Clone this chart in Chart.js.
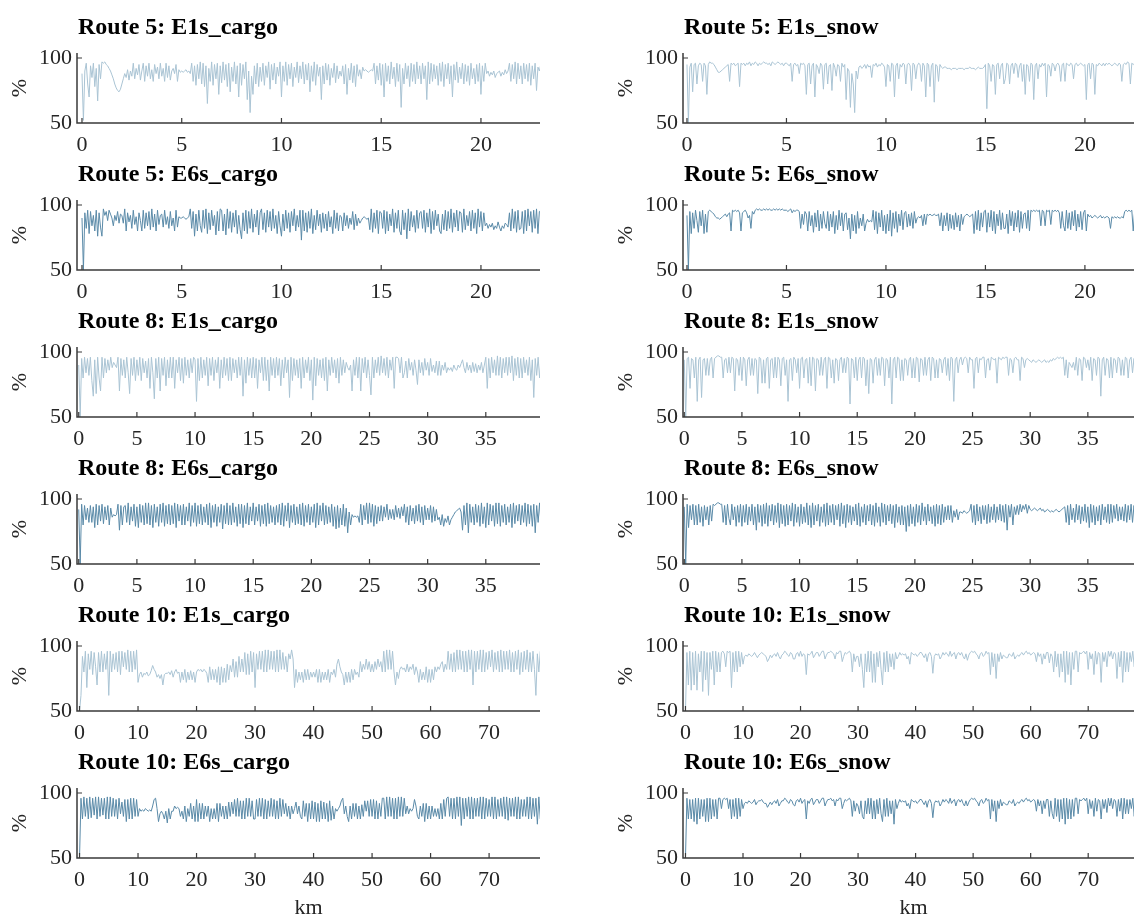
<!DOCTYPE html>
<html><head><meta charset="utf-8">
<script src="https://cdn.jsdelivr.net/npm/chart.js@4.4.1/dist/chart.umd.min.js"></script>
<style>
html,body{margin:0;padding:0;background:#fff;overflow:hidden;width:1134px;height:918px;}
#wrap{position:relative;width:1160px;height:918px;}
canvas{position:absolute;}
</style></head><body><div id="wrap"></div>
<script>
// ---- sampling density (samples per km) ----
const route5SamplesPerKm = 14;
const route8SamplesPerKm = 8;
const route10SamplesPerKm = 4;

// ---- tick labels ----
const route5Ticks = [0, 5, 10, 15, 20];
const route8Ticks = [0, 5, 10, 15, 20, 25, 30, 35];
const route10Ticks = [0, 10, 20, 30, 40, 50, 60, 70];
const yTicks = [50, 100];

// ---- series values (%), one row per km ----
const route5_E1s_cargo = [
 88,52,90,96,80,70,94,85,96,78,92,67,95,84,
 97,96,97,95,94,92,90,87,84,80,77,75,74,76,
 80,84,88,85,91,83,90,86,96,84,92,87,95,83,
 90,96,82,94,86,96,84,91,82,95,88,93,84,96,
 86,92,82,96,85,94,83,90,92,88,95,82,91,89,
 90,89,90,91,89,90,88,96,82,94,79,95,84,97,
 80,96,78,94,65,92,82,97,79,95,84,96,72,94,
 81,97,83,95,78,96,74,93,82,97,80,94,70,96,
 79,95,84,97,68,90,58,86,72,94,80,96,78,93,
 82,96,79,94,85,97,76,95,83,96,80,93,86,97,
 70,94,82,97,79,95,84,96,78,93,85,97,81,94,
 84,97,80,95,83,96,74,94,82,97,79,95,86,93,
 68,94,80,96,83,95,79,92,85,96,81,94,84,90,
 86,94,80,95,72,92,83,96,81,94,78,95,86,91,
 84,93,90,91,90,89,90,91,90,96,80,94,83,96,
 79,95,70,96,82,94,80,97,84,93,78,96,82,95,
 62,92,80,96,84,94,78,96,82,95,80,97,84,94,
 80,96,84,94,68,97,80,96,82,95,84,94,79,96,
 82,97,78,95,84,96,80,94,70,95,83,97,81,93,
 84,96,80,95,82,94,79,96,84,92,80,95,82,96,
 72,94,82,96,88,90,86,89,87,90,85,88,89,90,
 86,89,87,91,88,90,96,82,95,84,97,80,96,84,
 94,80,96,84,95,82,96,79,94,84,96,75,93,90,
 95,88];
const route5_E1s_snow = [
 95,50,93,96,74,95,96,80,94,96,95,82,96,94,
 72,95,97,96,96,95,93,91,89,89,90,91,92,93,
 94,95,82,96,95,96,94,95,96,78,96,95,96,94,
 96,95,97,94,96,95,97,96,94,96,95,96,97,96,
 96,95,96,94,97,96,95,96,97,96,95,96,94,96,
 96,95,94,96,82,95,96,94,95,88,96,95,96,94,
 72,95,96,80,94,96,70,95,93,88,96,94,76,95,
 96,80,94,95,75,96,93,86,95,94,82,96,93,95,
 68,92,90,62,88,80,58,90,84,93,94,92,93,95,
 92,95,93,94,85,95,94,96,93,95,94,96,95,93,
 78,95,94,82,96,95,70,94,96,84,95,93,96,95,
 80,95,96,94,75,96,95,84,94,96,95,82,96,94,
 70,96,95,78,94,96,66,95,94,82,95,93,92,93,
 93,92,92,92,91,92,92,92,91,92,92,92,92,91,
 92,92,92,93,92,92,92,91,92,93,92,92,92,93,
 95,61,96,94,82,95,94,72,95,96,84,94,96,80,
 84,96,95,80,94,96,88,96,95,85,94,96,82,95,
 72,95,94,82,96,95,68,94,96,84,95,93,96,94,
 96,70,95,94,86,96,95,90,95,96,94,82,95,96,
 82,96,95,94,96,95,84,95,96,94,95,96,95,94,
 95,68,95,96,84,96,95,72,95,94,96,95,94,96,
 94,96,95,96,95,94,95,96,95,94,96,95,82,95,
 96,95,97,96,80,96,95,96,95,96,94,95,80,95,
 96,94];
const route5_E6s_cargo = [
 90,50,94,82,96,78,95,84,92,80,96,76,94,83,
 76,97,92,95,88,96,93,90,84,92,88,95,86,93,
 92,86,97,80,94,87,92,82,96,85,91,80,94,88,
 80,96,82,94,84,95,81,97,83,93,80,96,85,92,
 93,83,96,85,91,82,95,84,90,80,96,83,91,90,
 90,91,90,89,90,91,97,82,95,76,93,80,96,84,
 79,96,82,97,78,94,81,96,84,92,77,95,80,97,
 96,80,93,77,97,82,95,79,94,83,96,78,92,81,
 74,94,80,96,78,95,82,97,79,93,83,96,77,94,
 97,81,94,79,96,83,95,80,97,82,92,78,95,84,
 76,93,80,96,82,94,79,95,84,97,80,92,83,96,
 73,96,80,94,79,95,82,97,78,92,81,96,84,93,
 79,94,82,93,80,95,83,91,78,96,82,94,80,92,
 91,80,94,84,92,82,90,85,95,81,93,84,90,86,
 88,90,91,90,89,90,81,97,79,94,82,96,78,95,
 94,82,96,78,95,80,93,84,97,79,94,82,96,80,
 77,96,81,94,74,97,80,95,83,92,79,96,82,94,
 95,82,96,79,94,83,97,78,95,81,96,84,93,80,
 78,93,81,96,80,95,82,97,79,94,83,96,80,95,
 94,79,97,81,92,84,95,80,96,82,94,78,97,83,
 95,80,94,84,86,82,85,83,86,81,84,82,87,83,
 80,84,82,86,85,83,94,80,97,82,95,79,96,81,
 82,95,78,96,80,97,84,95,79,96,82,97,78,95,
 96,84];
const route5_E6s_snow = [
 92,50,95,78,94,82,96,88,79,95,84,96,78,93,
 79,95,96,95,94,93,91,90,90,89,90,91,92,93,
 91,93,94,80,96,95,96,95,96,94,80,94,95,96,
 94,90,92,82,95,93,96,97,96,97,96,96,97,96,
 97,96,97,96,96,97,96,97,96,97,96,97,96,96,
 96,95,96,97,94,96,95,96,96,95,82,93,85,95,
 93,80,95,84,92,79,94,83,96,80,93,82,95,86,
 82,95,80,93,83,95,78,92,81,96,84,94,80,93,
 94,81,90,74,93,80,92,78,95,82,90,84,93,80,
 86,89,87,88,87,96,81,95,78,94,83,96,80,92,
 78,93,80,96,76,94,82,95,79,93,84,96,81,94,
 95,83,93,84,94,82,95,86,90,91,90,92,84,93,
 85,93,92,93,92,92,93,92,92,93,84,94,80,92,
 84,94,80,93,82,92,81,94,83,92,80,93,85,91,
 92,93,92,91,92,93,78,95,81,96,80,94,83,95,
 96,79,94,83,96,80,95,78,93,84,96,81,94,82,
 82,93,78,96,84,95,80,94,83,96,79,95,82,93,
 94,82,96,80,96,95,96,95,96,95,96,84,96,95,
 84,96,95,96,85,96,95,96,95,96,94,82,95,84,
 80,96,82,94,81,95,84,96,80,93,83,95,81,94,
 96,80,93,91,92,90,91,92,91,90,91,92,90,91,
 90,91,91,90,82,91,90,91,90,91,90,90,91,90,
 95,96,95,96,95,96,80,95,82,94,96,95,80,94,
 94,80];

const route8_E1s_cargo = [
 90,50,95,80,96,84,95,82, 96,78,66,94,68,96,80,70, 96,80,95,84,94,86,96,88, 92,90,88,96,70,95,82,94,
 80,96,84,68,95,82,96,78, 94,82,96,78,95,84,93,80, 95,72,96,84,64,95,80,96, 70,95,82,96,74,94,80,96,
 80,96,72,94,84,96,78,95, 76,96,82,94,80,95,84,96, 94,62,95,78,96,80,94,82, 96,74,95,82,96,78,94,84,
 96,72,94,80,96,82,95,78, 96,78,95,84,94,80,96,82, 96,66,94,76,96,82,95,80, 96,80,95,72,94,84,96,78,
 96,78,94,70,96,82,95,80, 96,82,95,74,94,80,96,84, 94,65,96,78,95,82,94,80, 95,72,96,80,94,84,96,78,
 94,63,96,74,95,82,94,80, 95,78,96,70,94,82,96,84, 94,80,95,76,96,82,94,84, 92,88,86,90,70,94,82,96,
 80,96,70,95,84,96,80,94, 82,67,96,80,94,84,96,82, 97,84,95,82,96,80,94,86, 96,72,96,96,95,84,96,80,
 84,93,80,95,86,92,82,94, 86,75,94,84,92,82,95,86, 92,82,95,85,90,84,93,82, 93,82,90,86,92,84,88,86,
 88,85,90,87,86,90,88,91, 94,88,84,92,86,90,84,92, 85,91,84,90,86,92,84,90, 96,72,95,80,96,84,94,82,
 97,82,96,80,95,84,96,82, 96,84,97,78,95,82,96,80, 95,80,96,84,94,82,96,78, 94,65,95,82,96,80,95,84];
const route8_E1s_snow = [
 94,50,95,96,72,95,94,80, 96,62,94,96,65,94,95,82, 95,82,94,96,80,95,96,97, 97,96,96,80,94,95,84,96,
 84,96,95,70,95,94,82,96, 78,96,94,74,94,96,82,95, 82,95,94,68,96,95,76,94, 76,95,96,72,94,95,80,96,
 80,96,94,74,95,96,82,94, 62,94,95,78,96,94,84,95, 72,95,96,80,94,95,76,96, 74,96,95,70,95,94,82,96,
 82,94,96,72,96,95,80,94, 76,95,94,78,94,96,84,95, 84,96,95,60,95,94,80,96, 78,94,96,80,96,95,74,94,
 68,95,94,76,94,96,82,95, 82,96,95,74,95,94,80,96, 60,94,96,80,96,95,78,94, 78,95,94,82,94,96,80,95,
 80,96,95,77,95,94,82,96, 82,94,96,78,96,95,80,94, 80,95,94,84,94,96,82,95, 78,96,95,62,94,96,84,94,
 96,90,95,96,95,84,96,94, 94,72,95,96,84,95,94,96, 96,80,94,95,86,96,95,94, 95,76,96,95,94,96,95,96,
 96,82,95,94,84,95,96,94, 94,78,96,95,88,94,95,94, 93,92,94,93,92,93,94,93, 92,93,94,92,93,92,94,93,
 95,94,95,96,95,96,95,96, 82,94,80,92,90,88,92,86, 96,82,95,94,78,96,95,88, 94,86,96,78,95,94,82,96,
 95,66,94,96,82,95,94,80, 96,80,95,94,84,96,95,82, 94,82,96,95,80,94,96,84, 95,84,96,94,82,95,96,80];
const route8_E6s_cargo = [
 92,50,96,80,95,84,93,82, 95,82,94,78,96,80,95,83, 96,81,94,84,95,80,93,86, 88,87,88,96,76,95,80,94,
 95,82,97,80,94,83,96,79, 94,78,96,82,95,80,97,81, 97,80,95,78,96,82,94,79, 96,82,97,79,95,81,96,80,
 95,81,97,78,96,83,95,80, 96,80,94,83,97,79,95,82, 97,79,95,81,96,80,94,82, 96,80,97,78,95,82,96,79,
 94,82,96,77,95,81,97,80, 95,80,97,82,94,79,96,81, 96,78,95,81,97,80,94,83, 97,80,94,83,96,79,95,81,
 96,79,97,81,95,82,94,80, 95,82,96,80,97,79,95,83, 97,78,95,82,96,80,94,81, 96,80,97,79,95,82,96,80,
 94,82,96,78,97,80,95,83, 97,80,95,81,94,82,96,79, 94,77,95,78,93,80,96,79, 93,74,90,80,88,86,87,86,
 87,82,96,80,95,84,97,81, 97,82,96,79,95,81,94,83, 95,83,94,86,96,84,92,85, 92,84,95,86,93,85,94,87,
 96,82,94,80,95,83,93,81, 95,83,96,82,94,80,95,84, 93,84,95,82,94,83,92,84, 86,80,88,79,85,82,87,80,
 84,86,88,90,91,92,93,90, 76,95,80,97,74,96,82,94, 80,96,82,95,79,97,81,94, 78,97,80,96,83,95,79,97,
 81,97,79,95,82,96,80,94, 82,96,78,97,81,95,83,96, 80,95,82,97,79,96,81,95, 79,96,74,95,82,97,80,94];
const route8_E6s_snow = [
 94,50,96,78,95,84,96,80, 95,80,96,82,94,79,95,84, 94,80,95,83,96,95,96,97, 97,96,96,82,95,80,96,85,
 80,96,84,94,79,95,82,96, 79,95,82,96,80,94,83,96, 80,94,76,96,82,95,79,96, 81,97,79,95,83,96,80,95,
 82,97,78,96,81,95,79,96, 80,95,83,97,79,96,82,94, 79,96,81,94,82,97,80,95, 78,97,80,95,83,96,79,94,
 82,96,79,97,80,95,82,96, 80,95,84,96,79,97,81,95, 78,96,82,95,80,94,83,96, 80,97,79,94,82,96,80,95,
 83,96,80,95,79,97,82,94, 79,97,82,96,80,95,83,96, 81,95,78,96,82,94,80,95, 80,94,75,95,79,96,81,94,
 79,96,82,95,80,97,83,94, 80,96,83,94,81,95,79,96, 81,95,80,96,82,94,84,95, 84,95,82,91,86,92,84,90,
 90,89,91,90,89,90,91,96, 82,95,80,96,83,94,81,95, 84,95,81,96,82,94,84,96, 82,94,84,96,83,95,82,96,
 76,95,86,96,80,94,88,95, 88,96,90,95,92,96,89,95, 92,91,92,93,92,91,92,93, 91,92,90,91,92,91,90,91,
 90,91,92,91,90,91,92,93, 94,82,95,80,96,84,93,82, 96,84,95,81,94,83,96,82, 94,78,96,82,95,80,94,83,
 95,80,96,84,94,82,96,81, 96,82,95,85,96,83,94,84, 94,83,96,82,95,84,96,82, 95,84,96,83,94,82,96,84];

const route10_E1s_cargo = [
 50,62,92,80, 96,68,94,82, 96,78,95,84, 70,95,80,96, 80,94,82,96, 62,96,80,94, 82,95,80,96, 78,96,84,95,
 82,97,80,96, 80,96,82,97, 72,78,80,76, 79,78,80,77, 78,81,85,82, 80,76,78,75, 78,70,78,79, 79,80,78,81,
 76,80,82,79, 80,72,80,74, 82,72,80,74, 81,74,80,72, 80,82,81,82, 80,82,81,79, 72,84,74,82, 74,82,72,84,
 70,84,72,83, 72,86,74,85, 80,90,76,88, 76,92,80,90, 80,95,78,94, 78,96,80,95, 68,94,82,96, 82,96,80,97,
 80,97,82,96, 82,96,80,97, 80,97,82,95, 82,92,80,94, 90,97,90,68, 82,72,80,74, 80,72,82,74, 82,74,80,76,
 80,76,82,72, 82,72,80,74, 80,74,82,72, 80,78,82,76, 86,90,84,80, 78,70,80,72, 80,72,82,74, 82,78,80,76,
 88,80,86,82, 90,82,88,80, 86,80,88,82, 90,84,88,80, 96,80,97,82, 97,82,96,80, 70,80,75,82, 84,82,83,80,
 86,80,84,82, 86,78,84,80, 72,82,74,80, 74,84,72,82, 72,82,74,84, 80,84,82,86, 88,80,86,82, 96,82,94,80,
 95,80,97,82, 97,82,96,80, 96,80,97,82, 97,70,96,80, 96,82,97,80, 97,80,95,82, 96,84,97,80, 95,82,96,80,
 97,80,96,82, 96,82,97,80, 95,80,96,82, 97,78,95,80, 96,82,97,80, 95,80,96,82, 62,94,80,96, 70,95];
const route10_E1s_snow = [
 50,95,70,96, 66,95,70,96, 66,94,80,96, 65,96,74,95, 62,95,82,96, 70,96,80,95, 80,95,96,94, 84,96,95,96,
 68,95,80,96, 80,96,84,95, 86,92,93,92, 94,93,92,93, 95,93,91,93, 94,95,94,93, 92,88,90,93, 91,93,94,92,
 95,92,90,93, 94,96,95,93, 92,95,94,90, 90,94,95,92, 96,92,94,93, 78,94,93,94, 96,91,93,95, 95,92,94,96,
 96,90,93,95, 95,96,95,94, 90,95,94,96, 96,88,92,95, 94,95,96,94, 80,94,88,92, 92,84,94,82, 68,94,80,96,
 80,96,72,94, 72,95,84,96, 82,70,95,80, 96,80,94,84, 94,82,95,90, 92,95,93,94, 93,94,90,92, 86,95,94,93,
 94,92,93,95, 95,93,91,94, 88,94,95,92, 79,92,94,93, 94,90,92,95, 93,95,94,92, 96,92,94,95, 90,94,95,93,
 95,92,90,94, 89,93,95,96, 95,96,94,93, 90,94,95,92, 93,96,94,95, 78,95,84,94, 75,94,88,95, 90,93,92,91,
 91,94,93,92, 95,90,92,93, 92,94,95,93, 95,96,94,95, 93,94,95,94, 88,95,92,94, 86,94,90,95, 95,87,94,92,
 80,96,84,94, 76,94,80,96, 72,96,78,95, 70,95,82,96, 96,80,95,94, 95,96,94,96, 82,95,90,94, 78,96,86,95,
 94,72,95,88, 95,84,96,92, 96,90,95,94, 75,95,84,96, 72,96,80,95, 80,95,88,96, 84,96,80,95, 78,95,82,96];
const route10_E6s_cargo = [
 50,96,80,97, 82,96,80,97, 81,96,83,97, 80,97,82,96, 83,96,80,97, 80,97,82,96, 82,95,80,96, 84,93,82,95,
 78,95,80,96, 80,96,82,95, 82,88,86,87, 86,88,87,86, 87,86,90,95, 96,88,78,84, 86,84,80,86, 77,88,80,86,
 86,90,88,89, 88,82,86,80, 90,78,88,82, 92,80,90,78, 95,78,92,80, 92,80,90,82, 90,78,88,80, 88,80,92,78,
 92,82,90,80, 90,80,93,82, 93,84,95,82, 96,82,94,80, 94,80,96,82, 96,82,94,80, 80,95,82,96, 82,96,80,95,
 80,94,82,96, 82,95,80,94, 80,96,82,95, 84,92,82,90, 80,90,84,88, 93,84,90,82, 80,94,82,92, 78,92,80,94,
 80,93,78,92, 78,94,80,93, 80,92,78,94, 79,90,80,88, 86,88,90,94, 96,84,90,82, 78,90,80,92, 82,92,80,90,
 80,91,82,94, 86,94,82,95, 82,95,80,94, 80,92,82,96, 96,80,97,82, 97,82,96,80, 96,80,97,82, 97,82,96,84,
 90,84,88,86, 88,95,90,82, 80,90,82,92, 78,92,80,90, 80,90,82,88, 82,88,80,92, 80,95,82,96, 97,82,96,80,
 96,80,97,82, 97,75,96,80, 96,82,97,80, 97,80,96,82, 96,82,97,80, 97,80,96,82, 95,82,97,80, 97,80,95,82,
 96,82,97,80, 97,79,96,82, 96,82,97,80, 97,80,95,82, 95,82,97,80, 97,80,96,82, 96,76,97,80, 75,94];
const route10_E6s_snow = [
 50,96,80,95, 80,95,78,96, 76,96,80,95, 82,95,78,96, 78,96,80,95, 82,95,80,96, 96,88,95,96, 95,96,88,95,
 80,95,82,96, 80,96,82,95, 88,92,93,92, 94,93,92,93, 95,91,93,94, 94,95,93,92, 92,89,91,93, 91,93,94,92,
 95,90,92,94, 94,96,95,93, 92,95,94,91, 90,94,95,93, 96,92,94,95, 80,94,92,95, 96,91,93,95, 95,92,94,96,
 96,90,93,95, 95,96,94,95, 90,95,94,96, 96,88,92,95, 94,95,96,94, 82,94,86,92, 90,84,94,82, 80,94,84,96,
 84,96,80,94, 80,95,84,96, 84,78,95,82, 96,82,94,84, 94,76,95,88, 92,95,93,94, 93,94,90,92, 88,95,94,93,
 94,92,93,95, 95,93,91,94, 89,94,95,92, 81,92,94,93, 94,90,92,95, 93,95,94,92, 96,92,94,95, 90,94,95,93,
 95,92,90,94, 90,93,95,96, 95,96,94,93, 90,94,95,92, 93,96,94,95, 80,95,86,94, 78,94,88,95, 90,93,92,91,
 91,94,93,92, 95,90,92,93, 92,94,95,93, 95,96,94,95, 93,94,95,94, 86,95,90,94, 84,94,88,95, 95,82,94,84,
 80,96,82,95, 78,95,80,96, 76,96,80,95, 80,95,82,96, 96,84,95,94, 95,96,94,96, 84,95,88,94, 82,96,86,95,
 94,80,95,88, 95,85,96,90, 96,88,95,94, 82,95,86,96, 80,96,84,95, 84,95,88,96, 82,96,84,95, 80,95,82,96];

// ---- styling ----
const LIGHT = '#aac4d4';
const DARK = '#5a8aa8';
const AXIS = '#3a3a3a';
const TEXT = '#262626';
const SERIF = '"Liberation Serif", "Times New Roman", serif';

const panels = [
 {t:'Route 5: E1s_cargo', d:route5_E1s_cargo, k:route5SamplesPerKm, tk:route5Ticks, r:0, c:0, lo:-0.25, hi:22.96, col:LIGHT},
 {t:'Route 5: E1s_snow',  d:route5_E1s_snow,  k:route5SamplesPerKm, tk:route5Ticks, r:0, c:1, lo:-0.2,  hi:22.97, col:LIGHT},
 {t:'Route 5: E6s_cargo', d:route5_E6s_cargo, k:route5SamplesPerKm, tk:route5Ticks, r:1, c:0, lo:-0.25, hi:22.96, col:DARK},
 {t:'Route 5: E6s_snow',  d:route5_E6s_snow,  k:route5SamplesPerKm, tk:route5Ticks, r:1, c:1, lo:-0.2,  hi:22.97, col:DARK},
 {t:'Route 8: E1s_cargo', d:route8_E1s_cargo, k:route8SamplesPerKm, tk:route8Ticks, r:2, c:0, lo:-0.15, hi:39.66, col:LIGHT},
 {t:'Route 8: E1s_snow',  d:route8_E1s_snow,  k:route8SamplesPerKm, tk:route8Ticks, r:2, c:1, lo:-0.11, hi:39.87, col:LIGHT},
 {t:'Route 8: E6s_cargo', d:route8_E6s_cargo, k:route8SamplesPerKm, tk:route8Ticks, r:3, c:0, lo:-0.15, hi:39.66, col:DARK},
 {t:'Route 8: E6s_snow',  d:route8_E6s_snow,  k:route8SamplesPerKm, tk:route8Ticks, r:3, c:1, lo:-0.11, hi:39.87, col:DARK},
 {t:'Route 10: E1s_cargo', d:route10_E1s_cargo, k:route10SamplesPerKm, tk:route10Ticks, r:4, c:0, lo:-0.43, hi:78.7, col:LIGHT},
 {t:'Route 10: E1s_snow',  d:route10_E1s_snow,  k:route10SamplesPerKm, tk:route10Ticks, r:4, c:1, lo:-0.43, hi:79.7, col:LIGHT},
 {t:'Route 10: E6s_cargo', d:route10_E6s_cargo, k:route10SamplesPerKm, tk:route10Ticks, r:5, c:0, lo:-0.43, hi:78.7, col:DARK},
 {t:'Route 10: E6s_snow',  d:route10_E6s_snow,  k:route10SamplesPerKm, tk:route10Ticks, r:5, c:1, lo:-0.43, hi:79.7, col:DARK}
];

const frame = {
  id: 'frame',
  afterDraw(chart, args, o) {
    const {ctx, chartArea: a, scales: {x, y}} = chart;
    ctx.save();
    ctx.strokeStyle = AXIS; ctx.lineWidth = 1.5; ctx.lineCap = 'butt';
    ctx.beginPath();
    ctx.moveTo(a.left, a.top); ctx.lineTo(a.left, a.bottom); ctx.lineTo(a.right, a.bottom);
    ctx.stroke();
    ctx.lineWidth = 1.2;
    ctx.beginPath();
    o.xt.forEach(v => { const px = x.getPixelForValue(v); ctx.moveTo(px, a.bottom); ctx.lineTo(px, a.bottom - 5); });
    const py = y.getPixelForValue(100); ctx.moveTo(a.left, py); ctx.lineTo(a.left + 5, py);
    ctx.stroke();
    ctx.fillStyle = '#000';
    ctx.font = 'bold 24px ' + SERIF;
    ctx.textAlign = 'left'; ctx.textBaseline = 'alphabetic';
    ctx.fillText(o.title, a.left + 1, a.top - 19);
    ctx.fillStyle = TEXT;
    ctx.font = '22px ' + SERIF;
    if (o.km) {
      ctx.textAlign = 'center'; ctx.textBaseline = 'middle';
      ctx.fillText('km', (a.left + a.right) / 2, a.bottom + 50);
    }
    ctx.translate(a.left - 57, (a.top + a.bottom) / 2);
    ctx.rotate(-Math.PI / 2);
    ctx.textAlign = 'center'; ctx.textBaseline = 'middle';
    ctx.fillText('%', 0, 0);
    ctx.restore();
  }
};

const wrap = document.getElementById('wrap');
panels.forEach(p => {
  const cv = document.createElement('canvas');
  const left = p.c === 0 ? 0 : 600;
  const top = p.r * 147;
  const h = p.r === 5 ? 918 - top : 175;
  cv.width = 560; cv.height = h;
  cv.style.left = left + 'px'; cv.style.top = top + 'px';
  cv.style.width = '560px'; cv.style.height = h + 'px';
  wrap.appendChild(cv);
  const yW = p.c === 0 ? 77 : 83;
  const rightPad = p.c === 0 ? 20 : 16;
  const areaTop = 53, areaBottom = 123;
  new Chart(cv, {
    type: 'line',
    data: { datasets: [{
      data: p.d.map((v, i) => ({x: i / p.k, y: v})),
      borderColor: p.col, borderWidth: 1, pointRadius: 0, fill: false, tension: 0
    }]},
    options: {
      responsive: false, animation: false, devicePixelRatio: 1,
      layout: { padding: { top: areaTop, right: rightPad, left: 0, bottom: 0 } },
      plugins: {
        legend: { display: false }, tooltip: { enabled: false }, title: { display: false },
        frame: { title: p.t, xt: p.tk, km: p.r === 5 }
      },
      scales: {
        x: {
          type: 'linear', min: p.lo, max: p.hi,
          grid: { display: false, drawTicks: false }, border: { display: false },
          ticks: { font: { family: SERIF, size: 22 }, color: TEXT, padding: 9, maxRotation: 0, autoSkip: false, callback: v => String(v) },
          afterBuildTicks: s => { s.ticks = p.tk.map(v => ({ value: v })); },
          afterFit: s => { s.height = h - areaBottom; }
        },
        y: {
          type: 'linear', min: 50, max: 103.85,
          grid: { display: false, drawTicks: false }, border: { display: false },
          ticks: { font: { family: SERIF, size: 22 }, color: TEXT, padding: 5, callback: v => String(v) },
          afterBuildTicks: s => { s.ticks = yTicks.map(v => ({ value: v })); },
          afterFit: s => { s.width = yW; }
        }
      }
    },
    plugins: [frame]
  });
});
</script>
</body></html>
